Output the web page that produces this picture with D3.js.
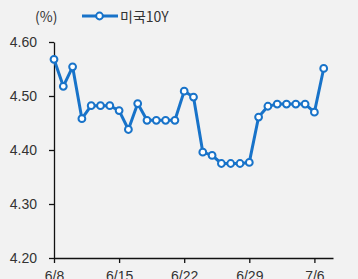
<!DOCTYPE html>
<html>
<head>
<meta charset="utf-8">
<script src="https://cdn.jsdelivr.net/npm/d3@7"></script>
<style>
  html, body { margin: 0; padding: 0; background: #f2f2f2; }
  svg { display: block; font-family: "Noto Sans CJK KR", "Noto Sans", sans-serif; }
</style>
</head>
<body>
<div id="chart"></div>
<script>
// 미국 10년물 금리, daily (%)
const dates = [`6/8`, `6/9`, `6/10`, `6/11`, `6/12`, `6/13`, `6/14`, `6/15`, `6/16`, `6/17`,
  `6/18`, `6/19`, `6/20`, `6/21`, `6/22`, `6/23`, `6/24`, `6/25`, `6/26`, `6/27`,
  `6/28`, `6/29`, `6/30`, `7/1`, `7/2`, `7/3`, `7/4`, `7/5`, `7/6`, `7/7`];
const us10y = [4.568, 4.518, 4.554, 4.458, 4.482, 4.482, 4.482, 4.473, 4.438, 4.486,
  4.455, 4.455, 4.455, 4.455, 4.509, 4.498, 4.396, 4.390, 4.375, 4.375,
  4.375, 4.377, 4.461, 4.481, 4.485, 4.485, 4.485, 4.485, 4.470, 4.551];
const xTicks = [`6/8`, `6/15`, `6/22`, `6/29`, `7/6`];
const yTicks = [4.20, 4.30, 4.40, 4.50, 4.60];

const width = 358, height = 279;
const margin = { top: 42, left: 54, right: 25, bottom: 21 };

const parse = d3.timeParse(`%Y/%m/%d`);
const toDate = (s) => parse(`2024/` + s);
const data = dates.map((d, i) => ({ date: toDate(d), value: us10y[i] }));

const svg = d3.select(`#chart`).append(`svg`)
    .attr(`width`, width)
    .attr(`height`, height);

const x = d3.scaleTime()
    .domain([toDate(`6/8`), toDate(`7/8`)])
    .range([margin.left, width - margin.right]);

const y = d3.scaleLinear()
    .domain([4.2, 4.6])
    .range([height - margin.bottom, margin.top]);

// axes
const yAxis = svg.append(`g`)
    .attr(`transform`, `translate(${margin.left},0)`)
    .call(d3.axisLeft(y).tickValues(yTicks).tickFormat(d3.format(`.2f`)).tickSize(5).tickSizeOuter(0).tickPadding(11));

const xAxis = svg.append(`g`)
    .attr(`transform`, `translate(0,${height - margin.bottom})`)
    .call(d3.axisBottom(x).tickValues(xTicks.map(toDate)).tickFormat(d3.timeFormat(`%-m/%-d`)).tickSize(5).tickSizeOuter(0).tickPadding(5));

svg.selectAll(`.domain, .tick line`).attr(`stroke`, `#111`).attr(`stroke-width`, 1.3);
svg.selectAll(`.tick text`).attr(`fill`, `#333`).style(`font-size`, `14px`);
yAxis.selectAll(`.tick text`).attr(`dx`, `-1`);
xAxis.selectAll(`.tick text`).attr(`dy`, `0.95em`);

// line
const color = `#1873c9`;
const line = d3.line()
    .x((d) => x(d.date))
    .y((d) => y(d.value));

svg.append(`path`)
    .datum(data)
    .attr(`fill`, `none`)
    .attr(`stroke`, color)
    .attr(`stroke-width`, 3)
    .attr(`stroke-linejoin`, `round`)
    .attr(`d`, line);

svg.selectAll(`circle.pt`)
    .data(data)
  .enter().append(`circle`)
    .attr(`class`, `pt`)
    .attr(`cx`, (d) => x(d.date))
    .attr(`cy`, (d) => y(d.value))
    .attr(`r`, 3.4)
    .attr(`fill`, `#fff`)
    .attr(`stroke`, color)
    .attr(`stroke-width`, 2);

// unit + legend
svg.append(`text`)
    .attr(`x`, 35).attr(`y`, 21.5)
    .attr(`fill`, `#333`)
    .style(`font-size`, `14px`)
    .text(`(%)`);

const legend = svg.append(`g`);
legend.append(`line`)
    .attr(`x1`, 82).attr(`x2`, 118)
    .attr(`y1`, 16).attr(`y2`, 16)
    .attr(`stroke`, color)
    .attr(`stroke-width`, 3);
legend.append(`circle`)
    .attr(`cx`, 99.5).attr(`cy`, 16).attr(`r`, 3.4)
    .attr(`fill`, `#fff`).attr(`stroke`, color).attr(`stroke-width`, 2);
legend.append(`text`)
    .attr(`x`, 120).attr(`y`, 21.5)
    .attr(`fill`, `#333`)
    .style(`font-size`, `14px`)
    .text(`미국10Y`);
</script>
</body>
</html>
